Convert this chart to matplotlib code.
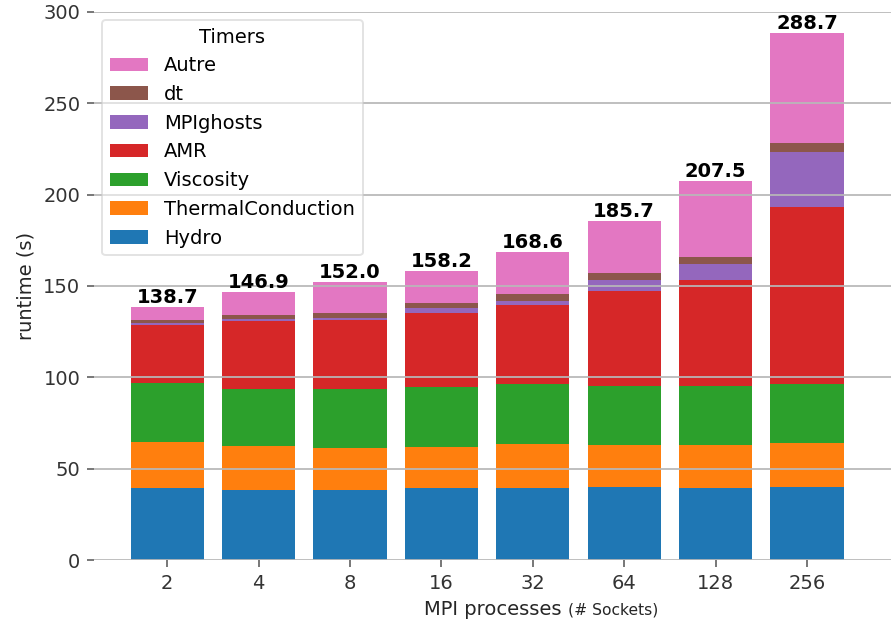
import matplotlib
matplotlib.use("Agg")
import matplotlib.pyplot as plt
import numpy as np

# MPI process counts (x categories)
procs = ["2", "4", "8", "16", "32", "64", "128", "256"]

# Per-timer runtimes in seconds, stacked bottom to top
hydro     = [39.2, 38.3, 38.3, 39.2, 39.2, 39.9, 39.3, 39.9]
thermal   = [25.2, 24.1, 22.8, 22.8, 24.3, 22.9, 23.5, 23.9]
viscosity = [32.3, 31.2, 32.5, 32.9, 32.7, 32.5, 32.5, 32.5]
amr       = [31.9, 37.4, 37.8, 40.5, 43.4, 52.2, 57.8, 97.0]
mpighosts = [1.0, 0.8, 1.2, 2.4, 2.4, 5.6, 8.9, 30.3]
dt        = [2.0, 2.3, 2.4, 3.1, 3.6, 4.0, 3.8, 4.6]
totals    = [138.7, 146.9, 152.0, 158.2, 168.6, 185.7, 207.5, 288.7]

series_names = ["Hydro", "ThermalConduction", "Viscosity", "AMR", "MPIghosts", "dt"]
series_vals = [hydro, thermal, viscosity, amr, mpighosts, dt]
colors = ["tab:blue", "tab:orange", "tab:green", "tab:red", "tab:purple", "tab:brown", "tab:pink"]

# "Autre" is everything not covered by the named timers
autre = [t - sum(v[i] for v in series_vals) for i, t in enumerate(totals)]
series_names.append("Autre")
series_vals.append(autre)

fig = plt.figure(figsize=(892 / 140, 621 / 140), dpi=140)
ax = fig.add_axes([94 / 892, 61 / 621, (892 - 94) / 892, 548 / 621])

x = np.arange(len(procs))
bottom = np.zeros(len(procs))
for name, vals, c in zip(series_names, series_vals, colors):
    ax.bar(x, vals, width=0.8, bottom=bottom, color=c, label=name, zorder=1)
    bottom += np.array(vals)

for xi, t in zip(x, totals):
    ax.text(xi, t, f"{t:.1f}", ha="center", va="bottom", fontsize=10,
            fontweight="bold", color="black", zorder=4)

ax.set_xlim(-0.8, 7.93)
ax.set_ylim(0, 300)
ax.set_xticks(x)
ax.set_xticklabels(procs)
ax.set_yticks(np.arange(0, 301, 50))
for s in ax.spines.values():
    s.set_visible(False)
ax.yaxis.grid(True, color="#b8b8b8", linewidth=0.9, zorder=3)
ax.set_axisbelow(False)
ax.tick_params(colors="#333333", length=3.5, width=0.8, labelsize=10)
ax.tick_params(axis="both", color="#555555")

ax.set_ylabel("runtime (s)", fontsize=10, color="#262626")
ax.set_xlabel("MPI processes", fontsize=10, color="#262626", labelpad=4)
ax.annotate("(# Sockets)", xy=(1, 0.12), xycoords=ax.xaxis.label,
            xytext=(3, 0), textcoords="offset points", ha="left", va="bottom",
            fontsize=8, color="#262626")

handles, labels = ax.get_legend_handles_labels()
leg = ax.legend(handles[::-1], labels[::-1], title="Timers", loc="upper left",
                fontsize=10, title_fontsize=10, framealpha=0.55,
                borderaxespad=0.4)
leg.get_frame().set_edgecolor("#cccccc")

fig.savefig("out.png", dpi=140)
